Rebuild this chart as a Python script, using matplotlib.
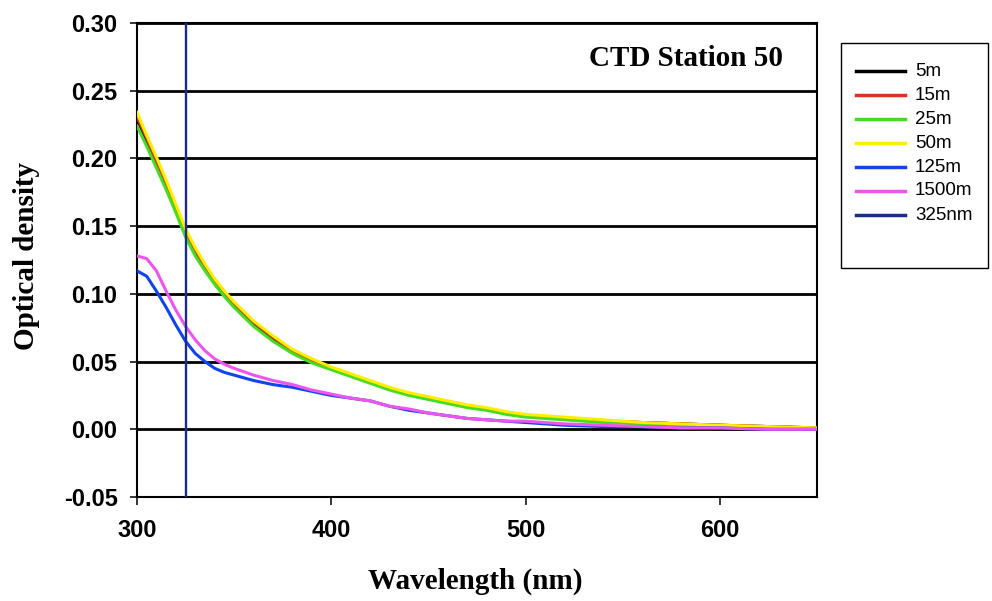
import matplotlib
matplotlib.use("Agg")
import matplotlib.pyplot as plt
from matplotlib.lines import Line2D
from matplotlib.patches import Rectangle

wavelength = [300, 305, 310, 315, 320, 325, 330, 335, 340, 345, 350, 360, 370, 380, 390,
              400, 410, 420, 430, 440, 450, 460, 470, 480, 490, 500, 520, 540, 560, 580,
              600, 625, 650]

od_5m = [0.229, 0.213, 0.197, 0.181, 0.163, 0.145, 0.131, 0.119, 0.109, 0.100, 0.092, 0.078,
         0.067, 0.058, 0.051, 0.045, 0.040, 0.035, 0.030, 0.026, 0.023, 0.020, 0.017, 0.015,
         0.012, 0.010, 0.008, 0.006, 0.005, 0.004, 0.003, 0.002, 0.001]
od_15m = [0.231, 0.215, 0.198, 0.182, 0.164, 0.146, 0.132, 0.120, 0.110, 0.101, 0.093, 0.079,
          0.068, 0.058, 0.051, 0.045, 0.040, 0.035, 0.030, 0.026, 0.023, 0.020, 0.017, 0.015,
          0.012, 0.010, 0.008, 0.006, 0.005, 0.004, 0.003, 0.002, 0.001]
od_25m = [0.224, 0.209, 0.193, 0.177, 0.160, 0.142, 0.128, 0.117, 0.107, 0.098, 0.090, 0.076,
          0.065, 0.056, 0.049, 0.044, 0.039, 0.034, 0.029, 0.025, 0.022, 0.019, 0.016, 0.014,
          0.011, 0.009, 0.007, 0.005, 0.004, 0.003, 0.002, 0.001, 0.001]
od_50m = [0.234, 0.217, 0.201, 0.184, 0.166, 0.148, 0.134, 0.122, 0.111, 0.102, 0.094, 0.080,
          0.069, 0.059, 0.052, 0.046, 0.041, 0.036, 0.031, 0.027, 0.024, 0.021, 0.018, 0.016,
          0.013, 0.011, 0.009, 0.007, 0.005, 0.004, 0.003, 0.002, 0.001]
od_125m = [0.117, 0.113, 0.102, 0.090, 0.077, 0.065, 0.056, 0.050, 0.045, 0.042, 0.040, 0.036,
           0.033, 0.031, 0.028, 0.025, 0.023, 0.021, 0.017, 0.014, 0.012, 0.010, 0.008, 0.007,
           0.006, 0.005, 0.003, 0.002, 0.002, 0.001, 0.001, 0.000, 0.000]
od_1500m = [0.128, 0.126, 0.117, 0.102, 0.088, 0.076, 0.066, 0.058, 0.052, 0.048, 0.045, 0.040,
            0.036, 0.033, 0.029, 0.026, 0.023, 0.021, 0.017, 0.015, 0.012, 0.010, 0.008, 0.007,
            0.006, 0.006, 0.004, 0.003, 0.002, 0.001, 0.001, 0.000, 0.000]

series_labels = ["5m", "15m", "25m", "50m", "125m", "1500m"]
series_values = [od_5m, od_15m, od_25m, od_50m, od_125m, od_1500m]
series_colors = ["#000000", "#e03020", "#44dd22", "#ffee00", "#1144ee", "#ee55ee"]
marker_wavelength = 325
marker_label = "325nm"
marker_color = "#1c2c8c"

y_ticks = [-0.05, 0.00, 0.05, 0.10, 0.15, 0.20, 0.25, 0.30]
x_ticks = [300, 400, 500, 600]

W, H = 992, 601
fig = plt.figure(figsize=(W / 100, H / 100), dpi=100)
ax = fig.add_axes([137 / W, 1 - 497 / H, (817 - 137) / W, (497 - 23) / H])

for yt in y_ticks[1:]:
    ax.axhline(yt, color="black", lw=2.0, zorder=1)

handles = []
for lab, vals, col in zip(series_labels, series_values, series_colors):
    h, = ax.plot(wavelength, vals, color=col, lw=2.2, label=lab, zorder=3)
    handles.append(h)
hv = ax.axvline(marker_wavelength, color=marker_color, lw=1.7, zorder=4, label=marker_label)
handles.append(hv)

ax.set_xlim(300, 650)
ax.set_ylim(-0.05, 0.30)
ax.set_xticks(x_ticks)
ax.set_yticks(y_ticks)
ax.set_yticklabels([f"{v:.2f}" for v in y_ticks])
for lbl in ax.get_xticklabels() + ax.get_yticklabels():
    lbl.set_fontfamily("Liberation Sans")
    lbl.set_fontweight("bold")
    lbl.set_fontsize(17)
ax.tick_params(axis="y", direction="out", length=5, width=1.1, pad=9)
ax.tick_params(axis="x", direction="out", length=5.5, width=1.1, pad=10)
for sp in ax.spines.values():
    sp.set_linewidth(1.5)

fig.text(475 / W, 1 - 581 / H, "Wavelength (nm)", ha="center", va="center",
         fontfamily="Liberation Serif", fontweight="bold", fontsize=21)
fig.text(27 / W, 1 - 256 / H, "Optical density", ha="center", va="center", rotation=90,
         fontfamily="Liberation Serif", fontweight="bold", fontsize=21)
fig.text(783 / W, 1 - 66 / H, "CTD Station 50", ha="right", va="baseline",
         fontfamily="Liberation Serif", fontweight="bold", fontsize=21)

# legend box
fig.patches.append(Rectangle((841 / W, 1 - 268 / H), (988 - 841) / W, (268 - 43) / H,
                             transform=fig.transFigure, fill=False, edgecolor="black", lw=1.0))
row0, step = 71, 24
for i, h in enumerate(handles):
    yy = 1 - (row0 + i * step) / H
    fig.lines.append(Line2D([856 / W, 905 / W], [yy, yy], transform=fig.transFigure,
                            color=h.get_color(), lw=2.5))
    fig.text(915 / W, yy, h.get_label(), ha="left", va="center",
             fontfamily="Liberation Sans", fontsize=13.5)

fig.savefig("out.png", dpi=100)
